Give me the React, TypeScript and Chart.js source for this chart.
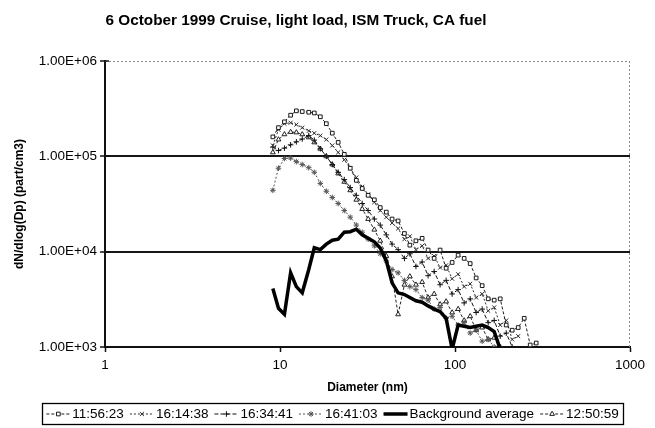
import React, { useEffect, useRef } from "react";
import { Chart, registerables } from "chart.js";
import { drawPoint } from "chart.js/helpers";
Chart.register(...registerables);

const chartTitle = "6 October 1999 Cruise, light load, ISM Truck, CA fuel";
const xTitle = "Diameter (nm)";
const yTitle = "dN/dlog(Dp) (part/cm3)";
const xTickValues = [1, 10, 100, 1000];
const yTickValues = [1000, 10000, 100000, 1000000];

const diameters = [9.1, 9.8, 10.6, 11.5, 12.4, 13.4, 14.6, 15.7, 17.0, 18.4, 19.9, 21.5, 23.3, 25.2, 27.3, 29.5, 31.9, 34.6, 37.4, 40.5, 43.7, 47.3, 51.4, 55.2, 59.8, 64.9, 70.2, 76.0, 82.2, 89.0, 96.3, 104.2, 112.8, 122.1, 132.1, 143.0, 154.8, 167.5, 181.3, 196.2, 212.3, 229.7, 248.6, 269.0, 291.1];

const s115623 = [160000, 200000, 230000, 270000, 300000, 295000, 290000, 285000, 260000, 220000, 175000, 140000, 105000, 75000, 56000, 46000, 39000, 35000, 29000, 26000, 22000, 21000, 15500, 11700, 13000, 13800, 10400, 8500, 10400, 6700, 7700, 9200, 8500, 7500, 5300, 4400, 3200, 3100, 3200, 1700, 1500, 1600, 2000, 1050, 1100];
const s161438 = [130000, 190000, 220000, 225000, 215000, 200000, 185000, 175000, 165000, 150000, 130000, 110000, 92000, 75000, 60000, 48000, 40000, 33000, 27000, 23000, 20000, 17500, 13500, 14500, 10500, 11500, 8500, 9000, 6800, 7200, 5200, 5800, 4300, 4600, 3300, 3600, 2400, 2600, 1700, 1900, 1200, 1300, null, null, null];
const s163441 = [125000, 115000, 122000, 132000, 142000, 152000, 165000, 148000, 120000, 100000, 82000, 68000, 57000, 47000, 39000, 32000, 27000, 22000, 19000, 15000, 12000, 10500, 8500, 9500, 7000, 7800, 5600, 6200, 4500, 5000, 3600, 4000, 2900, 3200, 2300, 2500, 1800, 1900, 1300, 1400, 1000, null, null, null, null];
const s164103 = [44000, 75000, 95000, 96000, 88000, 82000, 76000, 68000, 52000, 43000, 37000, 32000, 27000, 23000, 19000, 16000, 13500, 11500, 9500, 8000, 6500, 6000, 5000, 4300, 4000, 3300, 3100, 2500, 2600, 2000, 2100, 1700, 1800, 1400, 1500, 1150, 1200, 1000, null, null, null, null, null, null, null];
const sBackground = [4100, 2550, 2200, 6000, 4300, 3700, 6500, 11000, 10500, 12000, 13200, 13500, 16000, 16200, 17200, 15000, 13800, 12700, 10900, 8000, 4700, 3700, 3550, 3300, 3050, 2950, 2700, 2500, 2350, 2000, 950, 1700, 1650, 1600, 1650, 1700, 1600, 1450, 950, null, null, null, null, null, null];
const s125059 = [110000, 150000, 170000, 180000, 178000, 170000, 158000, 140000, 120000, 100000, 82000, 66000, 54000, 44000, 35000, 28000, 22000, 17000, 13000, 9000, 5500, 2200, 4500, 5500, 4500, 4800, 3300, 3600, 2800, 3000, 2300, 2500, 1900, 2100, 1500, 1600, 1200, 1250, 1000, null, null, null, null, null, null];

const seriesLabels = ["11:56:23", "16:14:38", "16:34:41", "16:41:03", "Background average", "12:50:59"];
const seriesValues = [s115623, s161438, s163441, s164103, sBackground, s125059];

const FONT = "'Liberation Sans', Arial, Helvetica, sans-serif";

function fmtE(v: number): string {
  const [m, e] = v.toExponential(2).split("e");
  const sign = e[0] === "-" ? "-" : "+";
  const digits = e.replace(/[+-]/, "").padStart(2, "0");
  return `${m}E${sign}${digits}`;
}

const styles = [
  { color: "#1a1a1a", dash: [3, 2], width: 1, point: "rect", radius: 2.6 },
  { color: "#2a2a2a", dash: [2, 2], width: 1, point: "crossRot", radius: 2.8 },
  { color: "#111111", dash: [4, 2], width: 1, point: "cross", radius: 2.8 },
  { color: "#555555", dash: [2, 2], width: 1, point: "star", radius: 2.8 },
  { color: "#000000", dash: [], width: 3.5, point: "circle", radius: 0 },
  { color: "#222222", dash: [3, 2], width: 1, point: "triangle", radius: 2.8 },
];

const overlayPlugin = {
  id: "overlay",
  beforeDatasetsDraw(chart: any) {
    const { ctx, chartArea: a } = chart;
    ctx.save();
    ctx.strokeStyle = "#8a8a8a";
    ctx.lineWidth = 1;
    ctx.setLineDash([2, 2]);
    ctx.beginPath();
    ctx.moveTo(a.left, a.top + 0.5);
    ctx.lineTo(a.right, a.top + 0.5);
    ctx.moveTo(a.right - 0.5, a.top);
    ctx.lineTo(a.right - 0.5, a.bottom);
    ctx.stroke();
    ctx.setLineDash([]);
    // inner tick halves on y axis
    const ys = chart.scales.y;
    ctx.strokeStyle = "#111";
    ctx.lineWidth = 1.5;
    ctx.beginPath();
    yTickValues.forEach((v) => {
      const py = ys.getPixelForValue(v);
      ctx.moveTo(a.left, py);
      ctx.lineTo(a.left + 4, py);
    });
    ctx.stroke();
    ctx.restore();
  },
  afterDraw(chart: any) {
    const { ctx, chartArea: a } = chart;
    ctx.save();
    ctx.fillStyle = "#000";
    // title
    ctx.font = `bold 15.3px ${FONT}`;
    ctx.textAlign = "center";
    ctx.textBaseline = "middle";
    ctx.fillText(chartTitle, 296, 21);
    // x title
    ctx.font = `bold 12px ${FONT}`;
    ctx.fillText(xTitle, (a.left + a.right) / 2, 388);
    // y title
    ctx.save();
    ctx.translate(20, (a.top + a.bottom) / 2);
    ctx.rotate(-Math.PI / 2);
    ctx.fillText(yTitle, 0, 0);
    ctx.restore();
    // legend
    const boxL = 42, boxR = 623, boxT = 403, boxB = 424;
    ctx.strokeStyle = "#000";
    ctx.lineWidth = 1.3;
    ctx.strokeRect(boxL + 0.5, boxT + 0.5, boxR - boxL, boxB - boxT);
    ctx.font = `13.5px ${FONT}`;
    ctx.textAlign = "left";
    const sample = 24, gapText = 2, gapItem = 6;
    const widths = seriesLabels.map((l) => sample + gapText + ctx.measureText(l).width);
    const total = widths.reduce((s, w) => s + w, 0) + gapItem * (widths.length - 1);
    let x = (boxL + boxR) / 2 - total / 2;
    const cy = (boxT + boxB) / 2 + 0.5;
    seriesLabels.forEach((label, i) => {
      const st = styles[i];
      ctx.save();
      ctx.strokeStyle = st.color;
      ctx.lineWidth = st.width === 1 ? 1.2 : st.width;
      ctx.setLineDash(st.dash);
      ctx.beginPath();
      ctx.moveTo(x, cy);
      ctx.lineTo(x + sample, cy);
      ctx.stroke();
      ctx.setLineDash([]);
      if (st.radius > 0) {
        ctx.fillStyle = "#fff";
        ctx.lineWidth = 1;
        drawPoint(ctx, { pointStyle: st.point, radius: st.radius, rotation: 0, borderWidth: 1 }, x + sample / 2, cy);
      }
      ctx.restore();
      ctx.fillStyle = "#000";
      ctx.fillText(label, x + sample + gapText, cy);
      x += widths[i] + gapItem;
    });
    ctx.restore();
  },
};

export default function App() {
  const ref = useRef<HTMLCanvasElement | null>(null);
  useEffect(() => {
    document.body.style.margin = "0";
    const canvas = ref.current;
    if (!canvas) return;
    const datasets = seriesValues.map((vals, i) => {
      const st = styles[i];
      const data = diameters
        .map((d, j) => ({ x: d, y: vals[j] }))
        .filter((p) => p.y !== null && p.y !== undefined);
      return {
        label: seriesLabels[i],
        data,
        showLine: true,
        borderColor: st.color,
        borderWidth: st.width,
        borderDash: st.dash,
        pointStyle: st.point,
        pointRadius: st.radius,
        pointBorderWidth: 1,
        pointBorderColor: st.color,
        pointBackgroundColor: "#ffffff",
        tension: 0,
        order: i === 4 ? 0 : 1,
      };
    });
    const chart = new Chart(canvas, {
      type: "scatter",
      data: { datasets: datasets as any },
      options: {
        responsive: false,
        animation: false,
        events: [],
        layout: { padding: { left: 0, right: 25, top: 61, bottom: 41 } },
        plugins: { legend: { display: false }, title: { display: false }, tooltip: { enabled: false } },
        font: { family: FONT },
        scales: {
          x: {
            type: "logarithmic",
            min: 1,
            max: 1000,
            afterBuildTicks: (s: any) => {
              s.ticks = xTickValues.map((v) => ({ value: v }));
            },
            afterFit: (s: any) => {
              s.height = 40;
            },
            ticks: {
              callback: (v: any) => String(v),
              color: "#000",
              font: { family: FONT, size: 13.5 },
              padding: 5,
              maxRotation: 0,
              autoSkip: false,
            },
            grid: { drawOnChartArea: false, tickLength: 5, tickColor: "#111", tickWidth: 1.5 },
            border: { display: true, color: "#111", width: 2 },
          },
          y: {
            type: "logarithmic",
            min: 1000,
            max: 1000000,
            afterBuildTicks: (s: any) => {
              s.ticks = yTickValues.map((v) => ({ value: v }));
            },
            afterFit: (s: any) => {
              s.width = 105;
            },
            ticks: {
              callback: (v: any) => fmtE(Number(v)),
              color: "#000",
              font: { family: FONT, size: 13.5 },
              padding: 3,
              autoSkip: false,
            },
            grid: {
              color: (c: any) =>
                c.tick && (c.tick.value === 10000 || c.tick.value === 100000) ? "#161616" : "rgba(0,0,0,0)",
              lineWidth: 2,
              tickLength: 5,
              tickColor: "#111",
              tickWidth: 1.5,
            },
            border: { display: true, color: "#111", width: 2 },
          },
        },
      } as any,
      plugins: [overlayPlugin],
    });
    return () => chart.destroy();
  }, []);
  return (
    <div style={{ position: "fixed", left: 0, top: 0, width: 655, height: 428, background: "#fff" }}>
      <canvas ref={ref} width={655} height={428} />
    </div>
  );
}
